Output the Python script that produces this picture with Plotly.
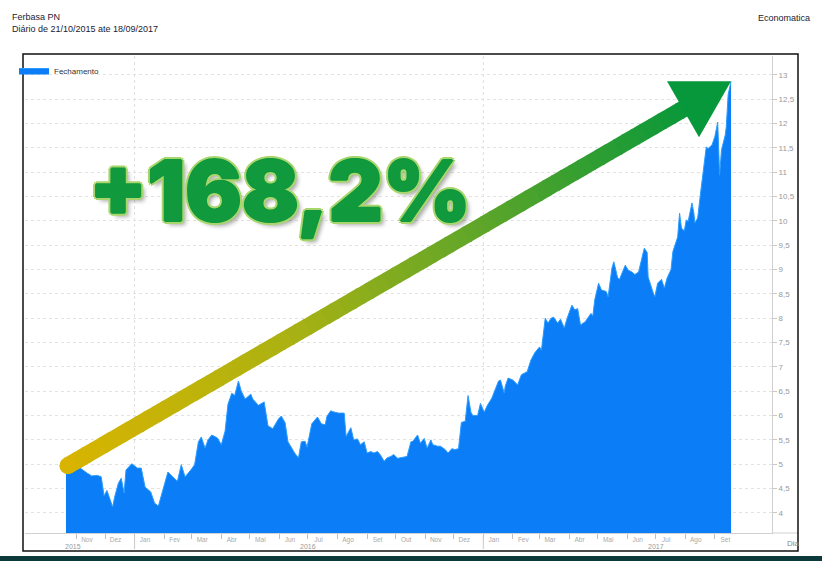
import plotly.graph_objects as go
import pandas as pd

# ---------------- data ----------------
DATES = [
    "2015-10-21", "2015-10-23", "2015-10-28", "2015-11-05", "2015-11-12", "2015-11-17", "2015-11-23",
    "2015-11-27", "2015-11-30", "2015-12-03", "2015-12-09", "2015-12-11", "2015-12-15", "2015-12-18",
    "2015-12-21", "2015-12-23", "2015-12-29", "2016-01-04", "2016-01-08", "2016-01-12", "2016-01-18",
    "2016-01-22", "2016-01-26", "2016-02-01", "2016-02-05", "2016-02-10", "2016-02-15", "2016-02-19",
    "2016-02-23", "2016-02-29", "2016-03-04", "2016-03-08", "2016-03-11", "2016-03-15", "2016-03-18",
    "2016-03-22", "2016-03-28", "2016-04-01", "2016-04-05", "2016-04-08", "2016-04-12", "2016-04-15",
    "2016-04-19", "2016-04-22", "2016-04-26", "2016-05-02", "2016-05-04", "2016-05-10", "2016-05-16",
    "2016-05-20", "2016-05-25", "2016-05-31", "2016-06-03", "2016-06-07", "2016-06-10", "2016-06-14",
    "2016-06-17", "2016-06-21", "2016-06-24", "2016-06-28", "2016-06-30", "2016-07-05", "2016-07-11",
    "2016-07-15", "2016-07-19", "2016-07-21", "2016-07-25", "2016-07-27", "2016-08-02", "2016-08-08",
    "2016-08-10", "2016-08-15", "2016-08-18", "2016-08-22", "2016-08-25", "2016-08-29", "2016-09-01",
    "2016-09-05", "2016-09-08", "2016-09-12", "2016-09-15", "2016-09-19", "2016-09-22", "2016-09-26",
    "2016-09-29", "2016-10-03", "2016-10-07", "2016-10-13", "2016-10-17", "2016-10-19", "2016-10-24",
    "2016-10-27", "2016-10-31", "2016-11-03", "2016-11-07", "2016-11-09", "2016-11-14", "2016-11-17",
    "2016-11-22", "2016-11-25", "2016-11-29", "2016-12-02", "2016-12-06", "2016-12-09", "2016-12-13",
    "2016-12-16", "2016-12-19", "2016-12-21", "2016-12-26", "2016-12-29", "2017-01-02", "2017-01-05",
    "2017-01-10", "2017-01-13", "2017-01-17", "2017-01-19", "2017-01-23", "2017-01-24", "2017-01-27",
    "2017-02-01", "2017-02-06", "2017-02-10", "2017-02-16", "2017-02-20", "2017-02-24", "2017-03-01",
    "2017-03-03", "2017-03-07", "2017-03-10", "2017-03-13", "2017-03-16", "2017-03-20", "2017-03-23",
    "2017-03-27", "2017-03-30", "2017-04-04", "2017-04-07", "2017-04-10", "2017-04-13", "2017-04-18",
    "2017-04-24", "2017-04-26", "2017-04-28", "2017-05-02", "2017-05-05", "2017-05-10", "2017-05-12",
    "2017-05-16", "2017-05-18", "2017-05-22", "2017-05-24", "2017-05-26", "2017-05-30", "2017-06-02",
    "2017-06-06", "2017-06-09", "2017-06-13", "2017-06-16", "2017-06-19", "2017-06-22", "2017-06-23",
    "2017-06-28", "2017-06-30", "2017-07-03", "2017-07-07", "2017-07-10", "2017-07-13", "2017-07-17",
    "2017-07-19", "2017-07-24", "2017-07-26", "2017-07-28", "2017-07-31", "2017-08-02", "2017-08-04",
    "2017-08-08", "2017-08-10", "2017-08-11", "2017-08-14", "2017-08-17", "2017-08-18", "2017-08-21",
    "2017-08-23", "2017-08-25", "2017-08-29", "2017-09-01", "2017-09-04", "2017-09-05", "2017-09-06",
    "2017-09-08", "2017-09-11", "2017-09-12", "2017-09-13", "2017-09-14", "2017-09-15", "2017-09-18",
]
CLOSE = [
    4.80, 4.92, 4.90, 4.92, 4.82, 4.76, 4.77,
    4.74, 4.35, 4.46, 4.12, 4.32, 4.61, 4.71,
    4.41, 4.88, 5.01, 4.92, 4.92, 4.53, 4.43,
    4.20, 4.14, 4.53, 4.84, 4.74, 4.65, 4.99,
    4.74, 4.88, 4.99, 5.46, 5.56, 5.33, 5.50,
    5.60, 5.54, 5.40, 5.68, 6.23, 6.46, 6.41,
    6.71, 6.50, 6.34, 6.44, 6.34, 6.21, 6.28,
    5.79, 5.73, 5.93, 5.99, 5.85, 5.46, 5.33,
    5.23, 5.13, 5.46, 5.47, 5.35, 5.83, 5.97,
    5.83, 5.81, 5.99, 6.10, 6.08, 6.05, 6.05,
    5.57, 5.75, 5.50, 5.52, 5.40, 5.46, 5.23,
    5.26, 5.23, 5.26, 5.19, 5.06, 5.13, 5.16,
    5.20, 5.12, 5.14, 5.16, 5.46, 5.47, 5.60,
    5.43, 5.53, 5.33, 5.50, 5.40, 5.37, 5.37,
    5.30, 5.23, 5.32, 5.30, 5.32, 5.86, 5.88,
    6.41, 6.07, 6.00, 6.00, 6.25, 6.07, 6.20,
    6.36, 6.50, 6.71, 6.73, 6.46, 6.60, 6.77,
    6.73, 6.63, 6.84, 6.90, 7.14, 7.29, 7.41,
    7.34, 8.00, 7.90, 8.00, 8.02, 7.90, 7.98,
    7.80, 8.00, 8.27, 8.17, 8.20, 7.86, 7.93,
    8.10, 8.05, 8.38, 8.72, 8.58, 8.55, 8.44,
    9.03, 9.16, 8.83, 8.80, 8.90, 9.09, 8.99,
    8.95, 8.90, 8.95, 9.20, 9.44, 9.35, 8.85,
    8.54, 8.44, 8.72, 8.80, 8.62, 8.83, 9.00,
    9.37, 9.67, 10.16, 9.85, 9.80, 10.02, 9.99,
    10.37, 10.16, 9.96, 10.06, 10.57, 10.74, 11.25,
    11.52, 11.49, 11.56, 11.73, 12.03, 11.52, 10.94,
    11.46, 11.70, 11.77, 11.93, 12.44, 12.60, 12.87,
]

SERIES_NAME = "Fechamento"
TITLE_LINE_1 = "Ferbasa PN"
TITLE_LINE_2 = "Diário de 21/10/2015 ate 18/09/2017"
SOURCE = "Economatica"
GAIN_LABEL = "+168,2%"
X_UNIT = "Dia"
MONTH_ABBR = ["Jan", "Fev", "Mar", "Abr", "Mai", "Jun", "Jul", "Ago", "Set", "Out", "Nov", "Dez"]
YEAR_LABELS = ["2015", "2016", "2017"]
YEAR_LABEL_DATES = ["2015-10-28", "2016-07-01", "2017-07-01"]
YEAR_STARTS = ["2016-01-01", "2017-01-01"]
Y_TICKS = [4 + 0.5 * i for i in range(19)]
X_RANGE = ["2015-09-08", "2017-10-31"]
Y_RANGE = [3.586, 13.39]
ARROW_TAIL = ("2015-10-23", 4.97)

# ---------------- geometry helpers (figure pixels -> paper) ----------------
W, H = 822, 561
ML, MR, MT, MB = 25, 50, 56, 28
PW, PH = W - ML - MR, H - MT - MB


def px(x):
    return (x - ML) / PW


def py(y):
    return (H - MB - y) / PH


FONT = "Arial, 'Liberation Sans', sans-serif"

fig = go.Figure()
fig.add_trace(go.Scatter(
    x=DATES, y=CLOSE, mode="lines", name=SERIES_NAME,
    fill="tozeroy", fillcolor="#0a7df7",
    line=dict(color="#2a9cff", width=1),
    showlegend=True, hoverinfo="x+y",
))

# month ticks
month_starts = pd.date_range("2015-11-01", "2017-09-01", freq="MS")
label_pos = [(d + pd.Timedelta(days=11)).strftime("%Y-%m-%d") for d in month_starts]
label_txt = [MONTH_ABBR[d.month - 1] for d in month_starts]

shapes = []
# year grid lines and separators
for ys in YEAR_STARTS:
    shapes.append(dict(type="line", xref="x", yref="paper", x0=ys, x1=ys, y0=0, y1=1,
                       line=dict(color="#dedede", width=1, dash="dot"), layer="below"))
    shapes.append(dict(type="line", xref="x", yref="paper", x0=ys, x1=ys, y0=py(536), y1=py(549),
                       line=dict(color="#c8c8c8", width=1)))

# extension of the x axis line to the frame
shapes.append(dict(type="line", xref="paper", yref="paper", x0=1, x1=px(798), y0=0, y1=0,
                   line=dict(color="#d0d0d0", width=1)))

# gradient arrow shaft
t0 = pd.Timestamp(ARROW_TAIL[0])
t1 = pd.Timestamp(DATES[-1])
v0, v1 = ARROW_TAIL[1], CLOSE[-1]
stops = [(0.0, (216, 180, 0)), (0.35, (172, 178, 18)), (0.65, (98, 166, 40)), (1.0, (8, 152, 58))]


def grad(t):
    for (a, ca), (b, cb) in zip(stops[:-1], stops[1:]):
        if t <= b:
            f = (t - a) / (b - a)
            return "rgb(%d,%d,%d)" % tuple(round(ca[i] + (cb[i] - ca[i]) * f) for i in range(3))
    return "rgb(%d,%d,%d)" % stops[-1][1]


N = 70
T_END = 0.935
for i in range(N):
    a = T_END * i / N
    b = T_END * (i + 1) / N + 0.002
    shapes.append(dict(
        type="line", xref="x", yref="y",
        x0=(t0 + (t1 - t0) * a).isoformat(), y0=v0 + (v1 - v0) * a,
        x1=(t0 + (t1 - t0) * min(b, T_END)).isoformat(), y1=v0 + (v1 - v0) * min(b, T_END),
        line=dict(color=grad((a + b) / 2 / T_END), width=17),
    ))
# rounded tail
shapes.append(dict(type="circle", xref="x", yref="y", xsizemode="pixel", ysizemode="pixel",
                   xanchor=ARROW_TAIL[0], yanchor=v0, x0=-8.5, x1=8.5, y0=-8.5, y1=8.5,
                   fillcolor=grad(0.0), line=dict(width=0)))
# arrow head (pixel-sized, anchored at the last close)
shapes.append(dict(type="path", xref="x", yref="y", xsizemode="pixel", ysizemode="pixel",
                   xanchor=DATES[-1], yanchor=v1,
                   path="M 0,0 L -64,0 L -32,-56 Z",
                   fillcolor="#07983b", line=dict(width=0)))

# outer frame
shapes.append(dict(type="rect", xref="paper", yref="paper", x0=px(23), x1=px(798), y0=py(551), y1=py(54),
                   line=dict(color="#111111", width=1.5), fillcolor="rgba(0,0,0,0)"))
# bottom dark strip
shapes.append(dict(type="rect", xref="paper", yref="paper", x0=px(-5), x1=px(830), y0=py(556), y1=py(565),
                   line=dict(width=0), fillcolor="#0c3a3a"))

annotations = [
    dict(text=TITLE_LINE_1, xref="paper", yref="paper", x=px(10), y=py(16.5), xanchor="left",
         yanchor="middle", showarrow=False, font=dict(family=FONT, size=9, color="#1a1a33")),
    dict(text=TITLE_LINE_2, xref="paper", yref="paper", x=px(10), y=py(28.5), xanchor="left",
         yanchor="middle", showarrow=False, font=dict(family=FONT, size=9, color="#1a1a33")),
    dict(text=SOURCE, xref="paper", yref="paper", x=px(812), y=py(18), xanchor="right",
         yanchor="middle", showarrow=False, font=dict(family=FONT, size=9, color="#1a1a33")),
    dict(text=X_UNIT, xref="paper", yref="paper", x=px(785), y=py(543), xanchor="left",
         yanchor="middle", showarrow=False, font=dict(family=FONT, size=8, color="#888888")),
]
for lab, d in zip(YEAR_LABELS, YEAR_LABEL_DATES):
    annotations.append(dict(text=lab, xref="x", yref="paper", x=d, y=py(546), xanchor="center",
                            yanchor="middle", showarrow=False,
                            font=dict(family=FONT, size=7, color="#999999")))

outline = "#a9d66c"
shadow = ", ".join([
    "1px 0 0 #10993d", "-1px 0 0 #10993d", "0 1px 0 #10993d", "0 -1px 0 #10993d",
    "3px 0 0 %s" % outline, "-3px 0 0 %s" % outline, "0 3px 0 %s" % outline, "0 -3px 0 %s" % outline,
    "2px 2px 0 %s" % outline, "-2px -2px 0 %s" % outline, "2px -2px 0 %s" % outline,
    "-2px 2px 0 %s" % outline, "4px 4px 4px rgba(0,0,0,0.35)",
])
annotations.append(dict(text=GAIN_LABEL, xref="paper", yref="paper", x=px(280), y=py(190),
                        xanchor="center", yanchor="middle", showarrow=False,
                        font=dict(family="Inter, 'Liberation Sans', Arial, sans-serif", size=84,
                                  color="#10993d", weight=900, shadow=shadow)))

fig.update_layout(
    width=W, height=H,
    margin=dict(l=ML, r=MR, t=MT, b=MB, pad=0),
    paper_bgcolor="white", plot_bgcolor="white",
    separators=",.",
    font=dict(family=FONT, color="#333333"),
    showlegend=True,
    legend=dict(x=px(14), y=1, xanchor="left", yanchor="top", bgcolor="rgba(0,0,0,0)",
                font=dict(size=8, color="#333333"), itemwidth=30, borderwidth=0),
    xaxis=dict(type="date", range=X_RANGE, tickmode="array", tickvals=label_pos, ticktext=label_txt,
               ticks="", tickfont=dict(size=6.5, color="#aaaaaa"), showgrid=False, zeroline=False,
               showline=True, linecolor="#d0d0d0", linewidth=1,
               minor=dict(tickmode="array", tickvals=[d.strftime("%Y-%m-%d") for d in month_starts],
                          ticks="outside", ticklen=5, tickcolor="#c0c0c0", showgrid=False)),
    yaxis=dict(side="right", range=Y_RANGE, tickmode="array", tickvals=Y_TICKS, ticks="outside",
               ticklen=4, tickcolor="#c8c8c8", tickfont=dict(size=8, color="#999999"),
               showgrid=True, gridcolor="#e2e2e2", griddash="3px,3px", gridwidth=1,
               showline=True, linecolor="#d0d0d0", linewidth=1, zeroline=False),
    shapes=shapes,
    annotations=annotations,
)

fig.write_html(
    "out.html",
    config={"displayModeBar": False},
    post_script="document.body.style.margin='0';document.body.style.overflow='hidden';",
)
